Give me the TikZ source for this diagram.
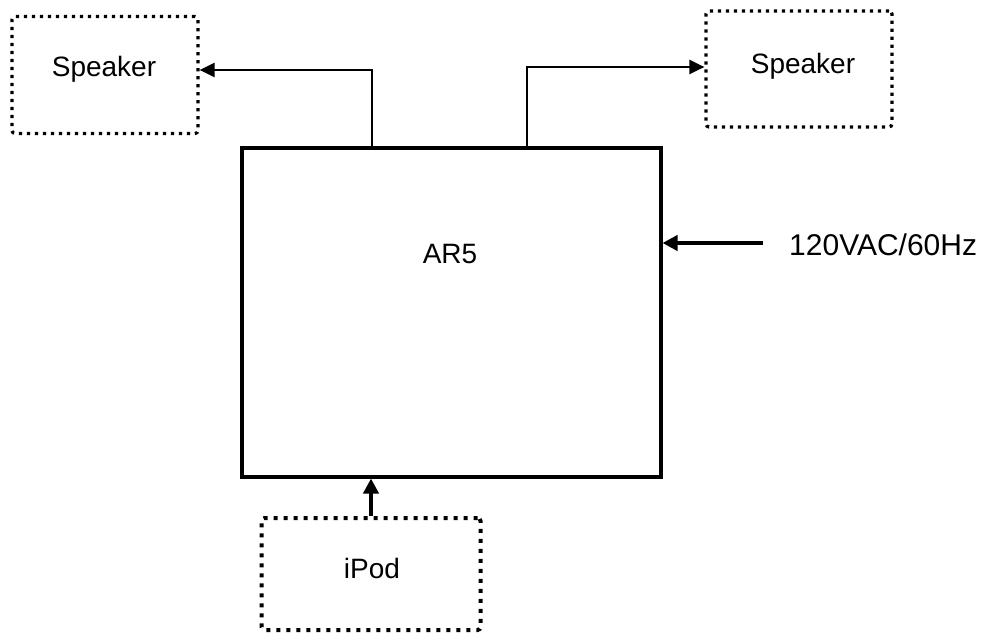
\documentclass[tikz,border=0pt]{standalone}
\usepackage{fontspec}
\setmainfont{Liberation Sans}
\usetikzlibrary{arrows.meta,positioning}

\begin{document}
\begin{tikzpicture}[
  x=1pt, y=-1pt,
  font=\fontsize{28}{33}\selectfont,
  mainbox/.style={draw, line width=4pt, minimum width=419pt, minimum height=329pt,
                  inner sep=0pt},
  dotbox/.style={draw, line width=3.2pt, dash pattern=on 3.2pt off 4.8pt,
                 rounded corners=3pt, inner sep=0pt},
  arr/.style={-{Triangle[length=15pt,width=14pt]}, line width=2.5pt},
  heavyarr/.style={-{Triangle[length=15pt,width=15pt]}, line width=4pt}
]
  \useasboundingbox (0,0) rectangle (981,637);
  % boxes
  \node[mainbox] (ar5) at (451,312) {};
  \node (ar5lbl) at (450,254) {AR5};
  \node[dotbox, minimum width=186pt, minimum height=117pt] (spkL) at (105,75) {};
  \node (spkLlbl) at (104,69) {Speaker};
  \node[dotbox, minimum width=186pt, minimum height=116pt] (spkR) at (799,69) {};
  \node (spkRlbl) at (803,66) {Speaker};
  \node[dotbox, line width=4pt, dash pattern=on 4pt off 6pt,
        minimum width=219pt, minimum height=112pt] (ipod) at (371,574) {};
  \node (ipodlbl) at (372,568) {iPod};
  \node[anchor=west, inner sep=0pt, font=\fontsize{30}{35}\selectfont] (mains) at (789,245) {120VAC/60Hz};
  % connectors
  \draw[arr] ([xshift=-79pt]ar5.north) |- ([yshift=5pt]spkL.east);
  \draw[arr] ([xshift=76pt]ar5.north) |- ([yshift=2pt]spkR.west);
  \draw[heavyarr] ([xshift=-26pt,yshift=2pt]mains.west) -- ([yshift=2pt]mains.west -| ar5.east);
  \draw[heavyarr] (ipod.north) -- (ipod.north |- ar5.south);
\end{tikzpicture}
\end{document}
